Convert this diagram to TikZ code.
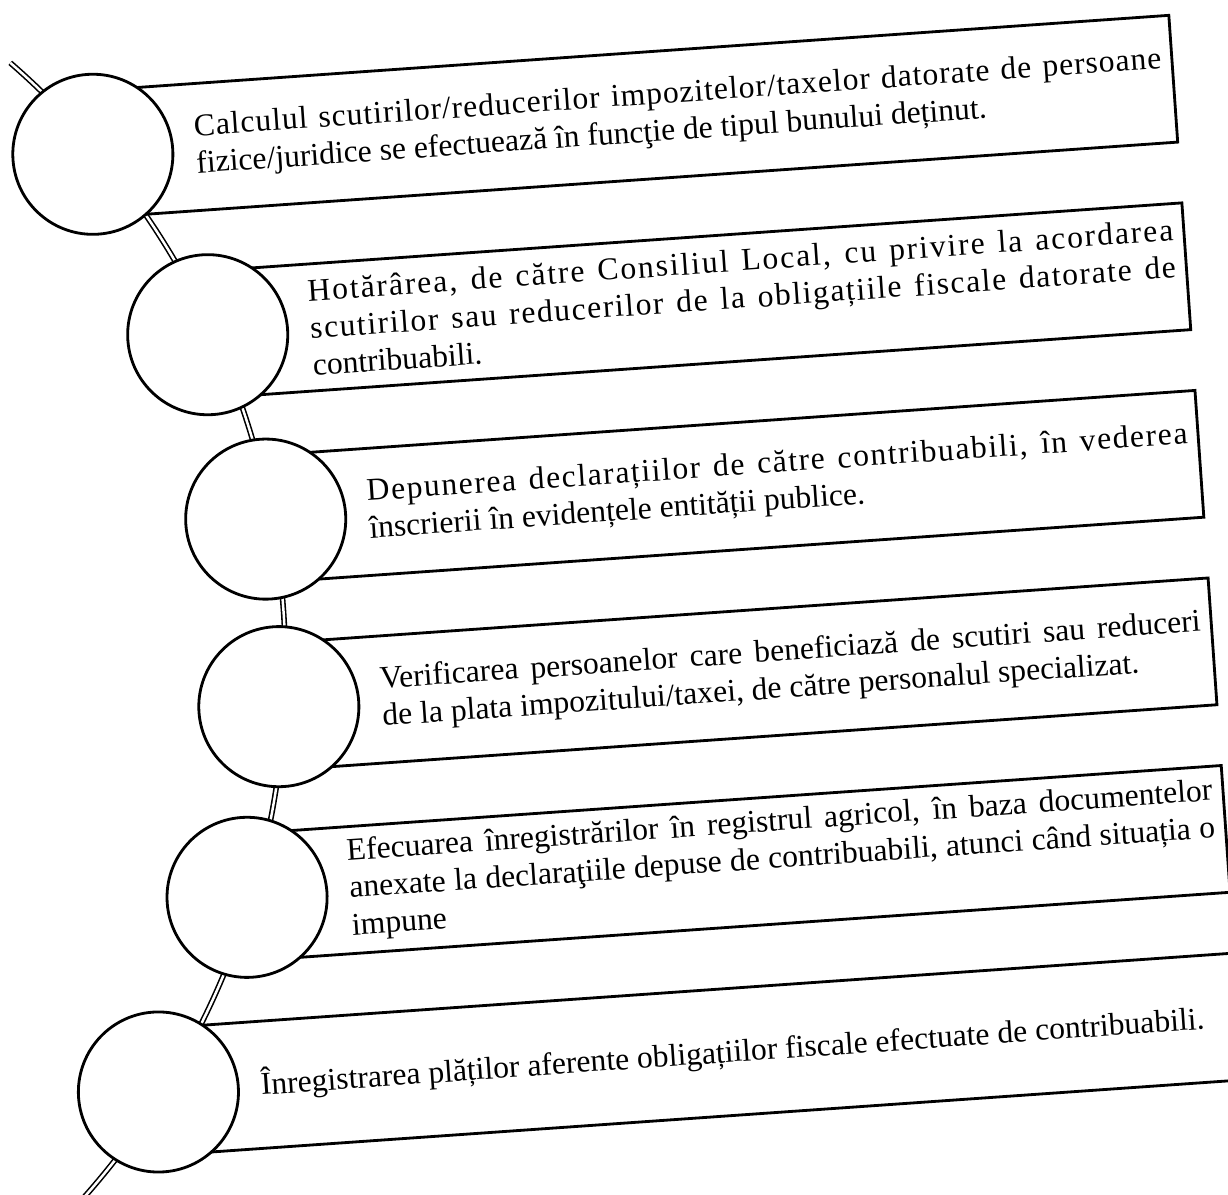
\documentclass[tikz,border=0pt]{standalone}
\usepackage{fontspec}
\setmainfont{Liberation Serif}
\usetikzlibrary{calc}
\tikzset{
  CC/.style={circle,draw,fill=white,line width=0.8pt,
             minimum size=1.6cm,inner sep=0pt},
  BX/.style={rectangle,draw,line width=0.8pt,
             minimum height=1.27cm,inner sep=0pt,anchor=west},
  TX/.style={inner sep=0pt,anchor=west,align=left,
             font=\fontsize{9}{10.6}\selectfont,
             execute at begin node={\spaceskip=0pt\xspaceskip=0pt}},
  SP/.style={double,double distance=0.7pt,line width=0.45pt}
}
% full line, letters spread by #1 percent
\newcommand{\fl}[2][0]{\makebox[\linewidth][s]{\spaceskip=0pt\xspaceskip=0pt\addfontfeature{LetterSpace=#1}#2}}

\begin{document}
\begin{tikzpicture}[x=0.01cm,y=-0.01cm]
  \useasboundingbox (0,0) rectangle (1228,1194);
  \clip (0,0) rectangle (1228,1194);
  \begin{scope}[rotate around={4:(614,597)},transform shape]
  % spine behind the circles
  \coordinate (s0) at (49,22);
  \draw[SP] (s0) arc[start angle=-45,end angle=46,radius=800];

  \node[BX,minimum width=10.81cm] (b1) at (125,119) {};
  \node[BX,minimum width=9.79cm]  (b2) at (227,307) {};
  \node[BX,minimum width=9.34cm]  (b3) at (272,495) {};
  \node[BX,minimum width=9.34cm]  (b4) at (272,683) {};
  \node[BX,minimum width=9.79cm]  (b5) at (227,871) {};
  \node[BX,minimum width=10.81cm] (b6) at (125,1059) {};

  \node[CC] (c1) at (b1.west) {};
  \node[CC] (c2) at (b2.west) {};
  \node[CC] (c3) at (b3.west) {};
  \node[CC] (c4) at (b4.west) {};
  \node[CC] (c5) at (b5.west) {};
  \node[CC] (c6) at (b6.west) {};

  \node[TX,text width=9.69cm] (t1) at (227,119)
    {\fl[3]{Calculul scutirilor/reducerilor impozitelor/taxelor datorate de persoane}\\
     fizice/juridice se efectuează în funcţie de tipul bunului deținut.};
  \node[TX,text width=8.67cm] (t2) at (329,307)
    {\fl[6]{Hotărârea, de către Consiliul Local, cu privire la acordarea}\\
     \fl[5]{scutirilor sau reducerilor de la obligațiile fiscale datorate de}\\
     contribuabili.};
  \node[TX,text width=8.22cm] (t3) at (374,495)
    {\fl[5]{Depunerea declarațiilor de către contribuabili, în vederea}\\
     înscrierii în evidențele entității publice.};
  \node[TX,text width=8.22cm] (t4) at (374,683)
    {\fl{Verificarea persoanelor care beneficiază de scutiri sau reduceri}\\
     de la plata impozitului/taxei, de către personalul specializat.};
  \node[TX,text width=8.67cm] (t5) at (329,871)
    {\fl{Efecuarea înregistrărilor în registrul agricol, în baza documentelor}\\
     \fl{anexate la declaraţiile depuse de contribuabili, atunci când situația o}\\
     impune};
  \node[TX,text width=9.69cm] (t6) at (227,1059)
    {Înregistrarea plăților aferente obligațiilor fiscale efectuate de contribuabili.};
  \end{scope}
\end{tikzpicture}
\end{document}
